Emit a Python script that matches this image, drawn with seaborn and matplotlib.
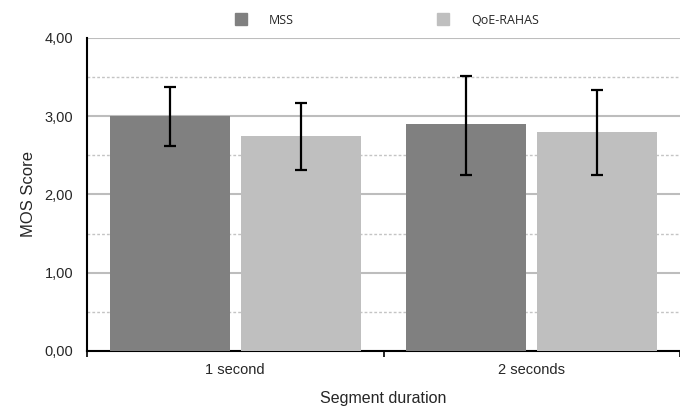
import matplotlib
matplotlib.use("Agg")
import matplotlib.pyplot as plt
import matplotlib.ticker as mticker
from matplotlib.lines import Line2D
import seaborn as sns
import pandas as pd

# Data
durations = ["1 second", "2 seconds"]
methods = ["MSS", "QoE-RAHAS"]
mss_mean = [3.00, 2.90]
qoe_mean = [2.75, 2.80]
mss_low = [2.62, 2.25]
mss_high = [3.37, 3.51]
qoe_low = [2.31, 2.25]
qoe_high = [3.17, 3.33]
colors = ["#808080", "#bfbfbf"]

df = pd.DataFrame({
    "duration": durations * 2,
    "method": [methods[0]] * 2 + [methods[1]] * 2,
    "mos": mss_mean + qoe_mean,
    "low": mss_low + qoe_low,
    "high": mss_high + qoe_high,
})

sns.set_style("white")
plt.rcParams["font.family"] = ["Liberation Sans", "DejaVu Sans"]

fig = plt.figure(figsize=(6.8, 4.08), dpi=100)
ax = fig.add_axes([0.128, 0.14, 0.872, 0.767])

sns.barplot(data=df, x="duration", y="mos", hue="method", palette=colors,
            width=0.885, gap=0.084, errorbar=None, saturation=1, linewidth=0,
            order=durations, hue_order=methods, legend=False, ax=ax, zorder=3)

# error bars at bar centres
patches = [p for p in ax.patches if p.get_height() > 0]
for p, (_, row) in zip(patches, df.iterrows()):
    xc = p.get_x() + p.get_width() / 2
    ax.errorbar(xc, row["mos"], yerr=[[row["mos"] - row["low"]], [row["high"] - row["mos"]]],
                fmt="none", ecolor="black", elinewidth=1.6, capsize=4, capthick=1.6, zorder=4)

ax.set_ylim(0, 4)
ax.set_xlim(-0.5, 1.5)
ax.yaxis.set_major_locator(mticker.MultipleLocator(1))
ax.yaxis.set_minor_locator(mticker.MultipleLocator(0.5))
ax.yaxis.set_major_formatter(mticker.FuncFormatter(lambda v, _: f"{v:.2f}".replace(".", ",")))
ax.grid(axis="y", which="major", color="#bdbdbd", linewidth=1.5, zorder=0)
ax.grid(axis="y", which="minor", color="#c4c4c4", linewidth=1, linestyle=(0, (2, 1.5)), zorder=0)
ax.set_axisbelow(True)

ax.xaxis.set_minor_locator(mticker.FixedLocator([-0.5, 0.5, 1.5]))
ax.tick_params(axis="x", which="major", length=0, labelsize=10.5, pad=9)
ax.tick_params(axis="x", which="minor", length=4, width=1.2, color="black", direction="out", bottom=True)
ax.tick_params(axis="y", which="both", length=0, labelsize=10.5, pad=10)

for s in ["top", "right"]:
    ax.spines[s].set_visible(False)
for s in ["left", "bottom"]:
    ax.spines[s].set_color("black")
    ax.spines[s].set_linewidth(1.5)

ax.set_xlabel("Segment duration", fontsize=11.5, labelpad=10)
ax.set_ylabel("MOS Score", fontsize=12, labelpad=6)

handles = [Line2D([], [], marker="s", linestyle="none", markersize=9,
                  markerfacecolor=c, markeredgecolor=c) for c in colors]
leg = ax.legend(handles, methods, loc="lower center", bbox_to_anchor=(0.50, 1.0),
                ncol=2, frameon=False, columnspacing=11, handletextpad=1.2,
                prop={"family": "Open Sans", "size": 9})

fig.savefig("out.png", dpi=100)
